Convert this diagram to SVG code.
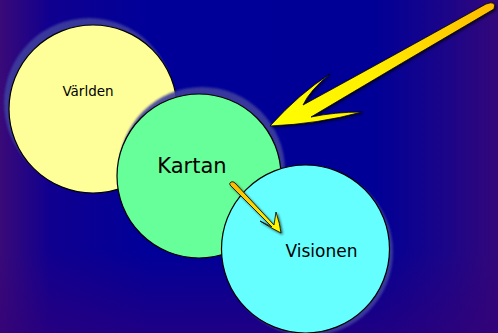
<svg xmlns="http://www.w3.org/2000/svg" width="498" height="333" viewBox="0 0 498 333">
<defs>
<linearGradient id="bg" x1="0" y1="0" x2="1" y2="0">
<stop offset="0" stop-color="#3a0a78"/>
<stop offset="0.1" stop-color="#10008f"/>
<stop offset="0.3" stop-color="#000099"/>
<stop offset="0.75" stop-color="#000096"/>
<stop offset="0.9" stop-color="#1c0588"/>
<stop offset="1" stop-color="#33077a"/>
</linearGradient>
<linearGradient id="bgv" x1="0" y1="0" x2="0" y2="1">
<stop offset="0.75" stop-color="#330077" stop-opacity="0"/>
<stop offset="1" stop-color="#330077" stop-opacity="0.6"/>
</linearGradient>
<linearGradient id="bigArrow" x1="270" y1="126" x2="494" y2="6" gradientUnits="userSpaceOnUse">
<stop offset="0" stop-color="#ffff00"/>
<stop offset="0.45" stop-color="#ffee00"/>
<stop offset="1" stop-color="#ffbb00"/>
</linearGradient>
<linearGradient id="smallArrow" x1="232" y1="183" x2="281" y2="233" gradientUnits="userSpaceOnUse">
<stop offset="0" stop-color="#ffb800"/>
<stop offset="1" stop-color="#ffff00"/>
</linearGradient>
<filter id="blur" x="-20%" y="-20%" width="140%" height="140%">
<feGaussianBlur stdDeviation="0.8"/>
</filter>
<filter id="ashadow" x="-10%" y="-10%" width="130%" height="130%">
<feDropShadow dx="1.5" dy="1.5" stdDeviation="1" flood-color="#000" flood-opacity="0.6"/>
</filter>
</defs>
<style>
.halo{fill:#3d3d9e;opacity:0.9}
.node{stroke:#000;stroke-width:1.2}
.lbl{font-family:"DejaVu Sans","Liberation Sans",sans-serif;fill:#000;text-anchor:middle}
.arrow{stroke:#000;stroke-width:0.8;stroke-linejoin:round}
</style>
<rect width="498" height="333" fill="url(#bg)"/>
<rect width="498" height="333" fill="url(#bgv)"/>

<g id="varlden">
<circle class="halo" cx="89" cy="103" r="85" filter="url(#blur)"/>
<circle class="node" cx="93" cy="109" r="84" fill="#ffff99"/>
<text class="lbl" x="88" y="96" font-size="13.5">Världen</text>
</g>

<g id="kartan">
<circle class="halo" cx="202" cy="170" r="83" filter="url(#blur)"/>
<circle class="node" cx="199" cy="176" r="82" fill="#66ff99"/>
<text class="lbl" x="192" y="173" font-size="21">Kartan</text>
</g>

<g id="visionen">
<circle class="halo" cx="309" cy="252" r="84" filter="url(#blur)"/>
<circle class="node" cx="305.5" cy="249" r="84" fill="#66ffff"/>
<text class="lbl" x="321.5" y="257" font-size="17">Visionen</text>
</g>

<g id="connectors">
<path class="arrow" fill="url(#bigArrow)" filter="url(#ashadow)" d="M 270,126 Q 300,93 330,74 Q 310,90 303,105 Q 400,52 486,4 Q 497,0 494,9 Q 400,64 311,117 Q 335,112 362,112 Q 318,124 270,126 Z"/>
<path class="arrow" fill="url(#smallArrow)" filter="url(#ashadow)" d="M 231,182 Q 233,181 235,183 L 274,225 L 276,212 Q 280,224 281,233 Q 271,228 260,221 L 272,227 L 230,185 Q 229,183 231,182 Z"/>
</g>
</svg>
